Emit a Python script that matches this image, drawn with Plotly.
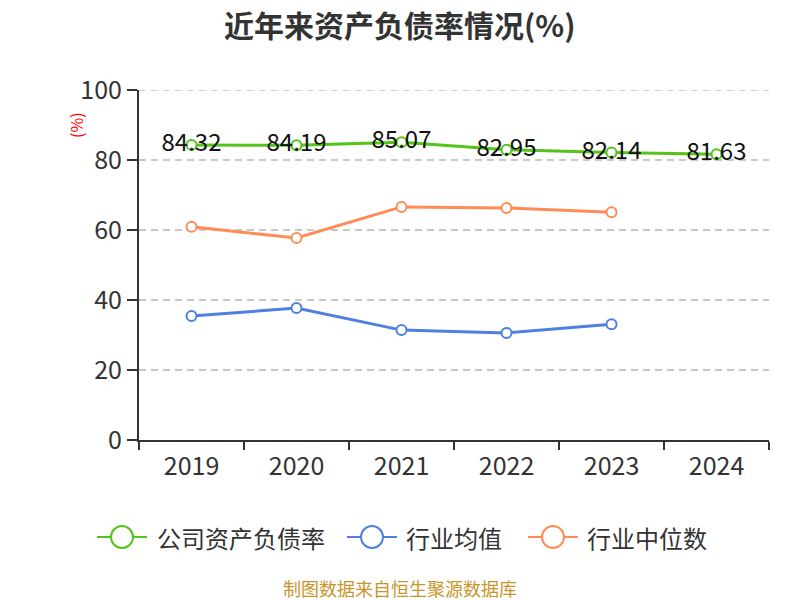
import plotly.graph_objects as go

years = ["2019", "2020", "2021", "2022", "2023", "2024"]
company = [84.32, 84.19, 85.07, 82.95, 82.14, 81.63]
industry_avg = [35.4, 37.7, 31.4, 30.6, 33.1, None]
industry_median = [60.9, 57.7, 66.6, 66.3, 65.1, None]
y_ticks = [0, 20, 40, 60, 80, 100]

FONT = "Microsoft YaHei, Noto Sans CJK SC, sans-serif"
GREEN = "#52c41a"
BLUE = "#4f80e0"
ORANGE = "#ff8c55"
GRID_DASH = "7px,5px"

series = [
    ("公司资产负债率", company, GREEN, True),
    ("行业均值", industry_avg, BLUE, False),
    ("行业中位数", industry_median, ORANGE, False),
]

fig = go.Figure()
for name, vals, color, labels in series:
    fig.add_trace(go.Scatter(
        x=years, y=vals, name=name, showlegend=False,
        mode="lines+markers+text" if labels else "lines+markers",
        text=[f"{v:.2f}" for v in vals] if labels else None,
        textposition="middle center",
        textfont=dict(family=FONT, size=24, color="#111"),
        line=dict(color=color, width=3),
        marker=dict(symbol="circle", size=10, color="white",
                    line=dict(color=color, width=2)),
        connectgaps=False,
        cliponaxis=False,
    ))

# plot area in figure pixels (page is offset by 8px body margin)
L, T, W, H = 131, 82, 630, 350


def px(xf):
    return (xf - L) / W


def py(yf):
    return (T + H - yf) / H


shapes = [
    dict(type="line", xref="paper", yref="y", x0=0, x1=1, y0=100, y1=100,
         line=dict(color="#c8c8c8", width=1.5, dash=GRID_DASH), layer="below"),
]
annotations = [
    dict(text="<b>近年来资产负债率情况(%)</b>", x=px(392), y=py(16), xref="paper", yref="paper",
         showarrow=False, xanchor="center", yanchor="middle",
         font=dict(family=FONT, size=30, color="#333")),
    dict(text="(%)", x=px(68), y=py(117), xref="paper", yref="paper",
         showarrow=False, textangle=-90, xanchor="center", yanchor="middle",
         font=dict(family=FONT, size=16, color="red")),
    dict(text="制图数据来自恒生聚源数据库", x=px(392), y=py(580), xref="paper", yref="paper",
         showarrow=False, xanchor="center", yanchor="middle",
         font=dict(family=FONT, size=18, color="#c9952a")),
]

# custom legend (line 50px, ring 24px, text)
legend_y = 529
legend_items = [(89, 150), (339, 399), (520, 580)]
for (name, vals, color, labels), (lx, tx) in zip(series, legend_items):
    shapes.append(dict(type="line", xref="paper", yref="paper",
                       x0=px(lx), x1=px(lx + 50), y0=py(legend_y), y1=py(legend_y),
                       line=dict(color=color, width=2)))
    shapes.append(dict(type="circle", xref="paper", yref="paper",
                       xsizemode="pixel", ysizemode="pixel",
                       xanchor=px(lx + 25), yanchor=py(legend_y),
                       x0=-11, x1=11, y0=-11, y1=11,
                       fillcolor="white", line=dict(color=color, width=2)))
    annotations.append(dict(text=name, x=px(tx - 3), y=py(legend_y), xref="paper", yref="paper",
                            showarrow=False, xanchor="left", yanchor="middle",
                            font=dict(family=FONT, size=24, color="#333")))

fig.update_layout(
    width=800, height=600,
    margin=dict(l=L, r=800 - L - W, t=T, b=600 - T - H),
    paper_bgcolor="white", plot_bgcolor="white",
    showlegend=False,
    font=dict(family=FONT, color="#333"),
    xaxis=dict(
        type="category", categoryorder="array", categoryarray=years,
        tickson="boundaries", ticks="outside", ticklen=8, tickcolor="#333",
        tickwidth=2, ticklabelstandoff=3,
        showline=True, linecolor="#333", linewidth=2,
        showgrid=False,
        tickfont=dict(family=FONT, size=25, color="#333"),
        range=[-0.5, 5.5],
    ),
    yaxis=dict(
        range=[0, 100], tickvals=y_ticks,
        ticks="outside", ticklen=10, tickcolor="#333", tickwidth=2,
        showline=True, linecolor="#333", linewidth=2,
        showgrid=True, gridcolor="#c8c8c8", griddash=GRID_DASH, gridwidth=1.5,
        zeroline=False,
        tickfont=dict(family=FONT, size=25, color="#333"),
    ),
    shapes=shapes,
    annotations=annotations,
)

fig.write_html("out.html")
